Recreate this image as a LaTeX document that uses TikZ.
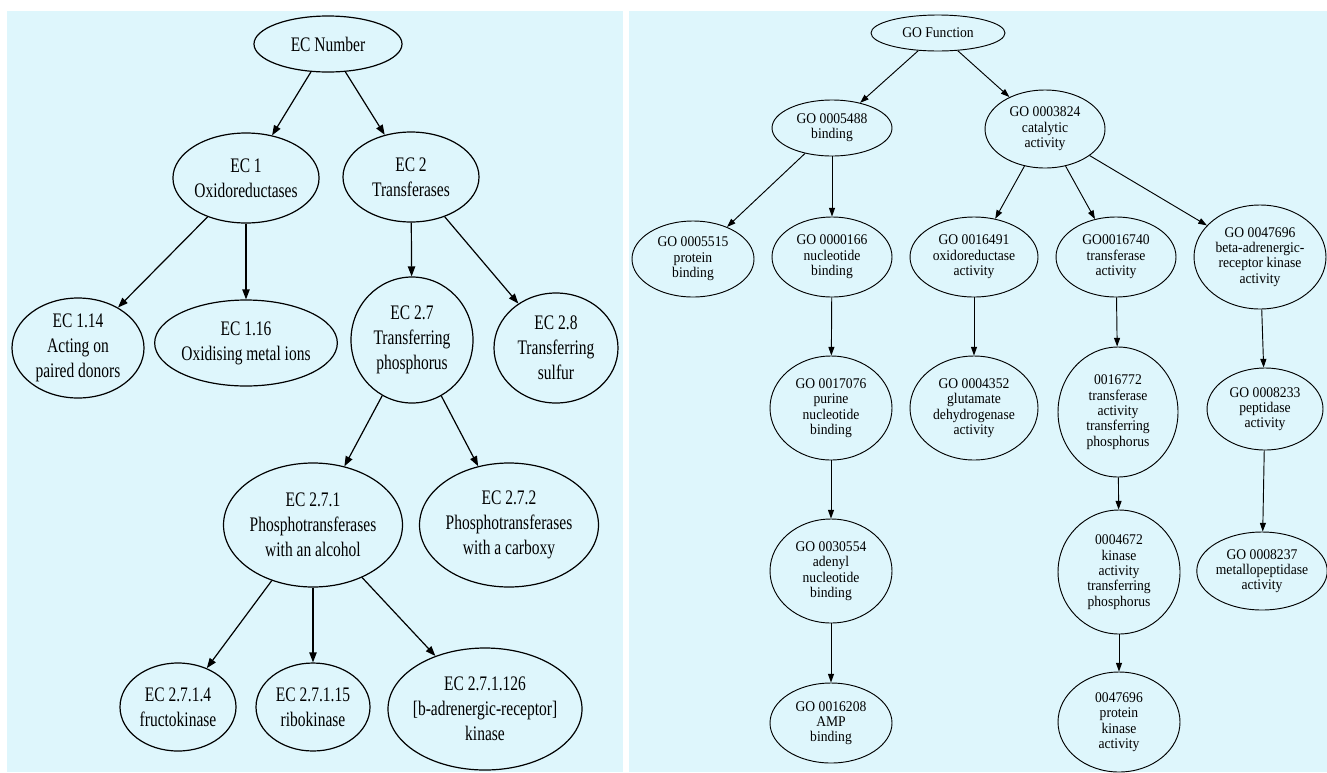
\documentclass[tikz,border=0pt]{standalone}
\usepackage{fontspec}
\setmainfont{Liberation Serif}
\newfontfamily\leftfnt[FakeStretch=0.75]{Liberation Serif}
\newfontfamily\rightfnt[FakeStretch=0.92]{Liberation Serif}
\usetikzlibrary{shapes.geometric,arrows.meta}
\definecolor{panelbg}{RGB}{222,246,252}
\tikzset{
  E/.style 2 args={minimum width=#1*1.5pt, minimum height=#2*1.5pt},
  lnode/.style={ellipse, draw=black, line width=0.9pt, inner sep=0pt, align=center,
    font={\leftfnt\fontsize{15.5pt}{18.75pt}\selectfont}},
  rnode/.style={ellipse, draw=black, line width=0.7pt, inner sep=0pt, align=center,
    font={\rightfnt\fontsize{11.1pt}{11.5pt}\selectfont}},
  ledge/.style={draw=black, line width=0.9pt, -{Triangle[length=7.5pt,width=5.5pt]}},
  redge/.style={draw=black, line width=0.7pt, -{Triangle[length=6.5pt,width=4.5pt]}},
}
\begin{document}
\begin{tikzpicture}[x=0.75pt,y=-0.75pt]
\useasboundingbox (0,0) rectangle (1327,772);
\fill[white] (0,0) rectangle (1327,772);
\fill[panelbg] (7,11) rectangle (623,772);
\fill[panelbg] (629,11) rectangle (1327,772);

% ---------- left tree ----------
\node[lnode, E={74}{28}] (ecn) at (328,44) {EC Number};
\node[lnode, E={72}{45}] (ec1) at (246,178) {EC 1\\Oxidoreductases};
\node[lnode, E={68}{45}] (ec2) at (411,177) {EC 2\\Transferases};
\node[lnode, E={66}{50}] (ec114) at (78,348) {EC 1.14\\Acting on\\paired donors};
\node[lnode, E={83}{43}] (ec116) at (246,343) {EC 1.16\\Oxidising metal ions};
\node[lnode, E={61}{63}] (ec27) at (412,340) {EC 2.7\\Transferring\\phosphorus};
\node[lnode, E={62}{55}] (ec28) at (556,348) {EC 2.8\\Transferring\\sulfur};
\node[lnode, E={89}{62}] (ec271) at (313,525) {EC 2.7.1\\Phosphotransferases\\with an alcohol};
\node[lnode, E={88}{62}] (ec272) at (509,525) {EC 2.7.2\\Phosphotransferases\\with a carboxy};
\node[lnode, E={58}{44}] (ec2714) at (178,707) {EC 2.7.1.4\\fructokinase};
\node[lnode, E={57}{44}] (ec27115) at (313,707) {EC 2.7.1.15\\ribokinase};
\node[lnode, E={97}{61}, inner xsep=-3pt] (ec271126) at (485,709) {EC 2.7.1.126\\{[b-adrenergic-receptor]}\\kinase};

\draw[ledge] (ecn) -- (ec1);
\draw[ledge] (ecn) -- (ec2);
\draw[ledge] (ec1) -- (ec114);
\draw[ledge] (ec1) -- (ec116);
\draw[ledge] (ec2) -- (ec27);
\draw[ledge] (ec2) -- (ec28);
\draw[ledge] (ec27) -- (ec271);
\draw[ledge] (ec27) -- (ec272);
\draw[ledge] (ec271) -- (ec2714);
\draw[ledge] (ec271) -- (ec27115);
\draw[ledge] (ec271) -- (ec271126);

% ---------- right tree ----------
\node[rnode, E={67}{18}] (gof) at (938,33) {GO Function};
\node[rnode, E={60}{28}] (g5488) at (832,128) {GO 0005488\\binding};
\node[rnode, E={60}{39}] (g3824) at (1045,129) {GO 0003824\\catalytic\\activity};
\node[rnode, E={61}{38}] (g5515) at (693,259) {GO 0005515\\protein\\binding};
\node[rnode, E={60}{40}] (g0166) at (832,257) {GO 0000166\\nucleotide\\binding};
\node[rnode, E={64}{40}] (g16491) at (974,257) {GO 0016491\\oxidoreductase\\activity};
\node[rnode, E={60}{40}] (g16740) at (1116,257) {GO0016740\\transferase\\activity};
\node[rnode, E={66}{52}] (g47696) at (1260,257) {GO 0047696\\beta-adrenergic-\\receptor kinase\\activity};
\node[rnode, E={61}{52}] (g17076) at (831,408) {GO 0017076\\purine\\nucleotide\\binding};
\node[rnode, E={64}{52}] (g4352) at (974,408) {GO 0004352\\glutamate\\dehydrogenase\\activity};
\node[rnode, E={60}{65}] (g16772) at (1118,412) {0016772\\transferase\\activity\\transferring\\phosphorus};
\node[rnode, E={58}{41}] (g8233) at (1265,409) {GO 0008233\\peptidase\\activity};
\node[rnode, E={61}{52}] (g30554) at (831,571) {GO 0030554\\adenyl\\nucleotide\\binding};
\node[rnode, E={61}{62}] (g4672) at (1119,572) {0004672\\kinase\\activity\\transferring\\phosphorus};
\node[rnode, E={64}{39}] (g8237) at (1262,571) {GO 0008237\\metallopeptidase\\activity};
\node[rnode, E={61}{40}] (g16208) at (831,723) {GO 0016208\\AMP\\binding};
\node[rnode, E={61}{50}] (g47696b) at (1119,722) {0047696\\protein\\kinase\\activity};

\draw[redge] (gof) -- (g5488);
\draw[redge] (gof) -- (g3824);
\draw[redge] (g5488) -- (g5515);
\draw[redge] (g5488) -- (g0166);
\draw[redge] (g3824) -- (g16491);
\draw[redge] (g3824) -- (g16740);
\draw[redge] (g3824) -- (g47696);
\draw[redge] (g0166) -- (g17076);
\draw[redge] (g16491) -- (g4352);
\draw[redge] (g16740) -- (g16772);
\draw[redge] (g47696) -- (g8233);
\draw[redge] (g17076) -- (g30554);
\draw[redge] (g16772) -- (g4672);
\draw[redge] (g8233) -- (g8237);
\draw[redge] (g30554) -- (g16208);
\draw[redge] (g4672) -- (g47696b);
\end{tikzpicture}
\end{document}
